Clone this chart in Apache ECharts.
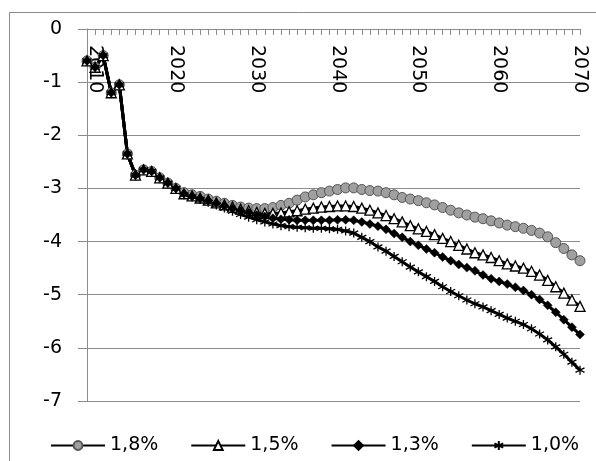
<!DOCTYPE html>
<html>
<head>
<meta charset="utf-8">
<script src="https://cdn.jsdelivr.net/npm/echarts@6/dist/echarts.min.js"></script>
<style>
html,body{margin:0;padding:0;background:#fff;}
#c{width:596px;height:461px;}
</style>
</head>
<body>
<div id="c"></div>
<script>
// Years 2009..2070
const years = [];
for (let y = 2009; y <= 2070; y++) years.push(String(y));

const seriesNames = ['1,8%', '1,5%', '1,3%', '1,0%'];

// Common start 2009-2020
const common = [-0.6, -0.72, -0.5, -1.2, -1.05, -2.35, -2.75, -2.65, -2.68, -2.8, -2.9, -3.0];

const s18 = common.concat([
  -3.08, -3.12, -3.15, -3.2, -3.24, -3.28, -3.32, -3.35, -3.37, -3.38,
  -3.38, -3.36, -3.32, -3.28, -3.22, -3.16, -3.12, -3.08, -3.05, -3.02,
  -2.99, -2.99, -3.02, -3.04, -3.05, -3.08, -3.12, -3.17, -3.2, -3.23,
  -3.27, -3.31, -3.36, -3.41, -3.46, -3.5, -3.54, -3.57, -3.61, -3.65,
  -3.69, -3.72, -3.75, -3.79, -3.84, -3.91, -4.02, -4.13, -4.25, -4.36
]);
const s15 = common.concat([
  -3.1, -3.14, -3.18, -3.22, -3.27, -3.31, -3.35, -3.39, -3.42, -3.45,
  -3.47, -3.47, -3.46, -3.44, -3.42, -3.39, -3.37, -3.35, -3.34, -3.33,
  -3.33, -3.34, -3.37, -3.41, -3.46, -3.51, -3.57, -3.63, -3.7, -3.76,
  -3.81, -3.87, -3.94, -4.0, -4.07, -4.14, -4.21, -4.25, -4.3, -4.36,
  -4.42, -4.46, -4.5, -4.56, -4.63, -4.73, -4.85, -4.97, -5.1, -5.22
]);
const s13 = common.concat([
  -3.1, -3.15, -3.19, -3.23, -3.28, -3.33, -3.38, -3.42, -3.46, -3.5,
  -3.53, -3.56, -3.58, -3.59, -3.6, -3.6, -3.6, -3.6, -3.6, -3.59,
  -3.59, -3.6, -3.63, -3.67, -3.71, -3.77, -3.85, -3.92, -4.0, -4.07,
  -4.14, -4.21, -4.29, -4.36, -4.43, -4.49, -4.55, -4.63, -4.7, -4.75,
  -4.8, -4.86, -4.92, -5.0, -5.09, -5.2, -5.33, -5.47, -5.61, -5.75
]);
const s10 = common.concat([
  -3.12, -3.16, -3.21, -3.26, -3.31, -3.37, -3.43, -3.49, -3.54, -3.59,
  -3.63, -3.67, -3.7, -3.72, -3.73, -3.74, -3.75, -3.75, -3.76, -3.77,
  -3.8, -3.84, -3.92, -4.0, -4.1, -4.18, -4.28, -4.38, -4.48, -4.57,
  -4.66, -4.75, -4.85, -4.94, -5.02, -5.1, -5.17, -5.23, -5.3, -5.37,
  -5.44, -5.5, -5.56, -5.64, -5.74, -5.85, -5.98, -6.12, -6.27, -6.42
]);

const yMin = -7, yMax = 0, yStep = 1;

const FONT = 'DejaVu Sans';
const starPath = 'path://M5,0L5,10M0.7,2.5L9.3,7.5M9.3,2.5L0.7,7.5';

function mk(name, data, symbol, size, fill, border, bw) {
  return {
    name: name,
    type: 'line',
    data: data,
    symbol: symbol,
    symbolSize: size,
    showSymbol: true,
    showAllSymbol: true,
    lineStyle: { color: '#000', width: 3 },
    itemStyle: { color: fill, borderColor: border, borderWidth: bw },
    emphasis: { disabled: true },
    z: 2
  };
}

const chart = echarts.init(document.getElementById('c'), null, { renderer: 'canvas' });
chart.setOption({
  animation: false,
  backgroundColor: '#fff',
  graphic: [{
    type: 'rect',
    shape: { x: 9.5, y: 12.5, width: 620, height: 480 },
    style: { fill: 'none', stroke: '#8c8c8c', lineWidth: 1 },
    silent: true, z: -10
  }],
  grid: { left: 87, right: 16, top: 29, bottom: 60, containLabel: false },
  legend: {
    left: 45, top: 431,
    itemWidth: 54, itemHeight: 11, itemGap: 32,
    textStyle: { fontFamily: FONT, fontSize: 19, color: '#000' },
    data: seriesNames
  },
  xAxis: {
    type: 'category',
    position: 'top',
    data: years,
    boundaryGap: false,
    axisLine: { onZero: false, lineStyle: { color: '#8c8c8c', width: 1 } },
    axisTick: { show: true, inside: true, interval: 0, length: 6, lineStyle: { color: '#8c8c8c' } },
    axisLabel: {
      inside: true,
      interval: function (i, v) { return Number(v) % 10 === 0; },
      rotate: 90, margin: 16,
      fontFamily: FONT, fontSize: 19, color: '#000'
    },
    splitLine: { show: false }
  },
  yAxis: {
    type: 'value',
    min: yMin, max: yMax, interval: yStep,
    axisLine: { show: true, lineStyle: { color: '#8c8c8c', width: 1 } },
    axisTick: { show: true, length: 9, lineStyle: { color: '#8c8c8c' } },
    axisLabel: { margin: 25, fontFamily: FONT, fontSize: 19, color: '#000' },
    splitLine: { show: true, lineStyle: { color: '#8c8c8c', width: 1 } }
  },
  series: [
    mk(seriesNames[0], s18, 'circle', 10, '#a0a0a0', '#555', 1),
    mk(seriesNames[1], s15, 'triangle', 10, '#fff', '#000', 1.3),
    mk(seriesNames[2], s13, 'diamond', 9, '#000', '#000', 0.5),
    mk(seriesNames[3], s10, starPath, 9, 'none', '#000', 1.3)
  ]
});
</script>
</body>
</html>
